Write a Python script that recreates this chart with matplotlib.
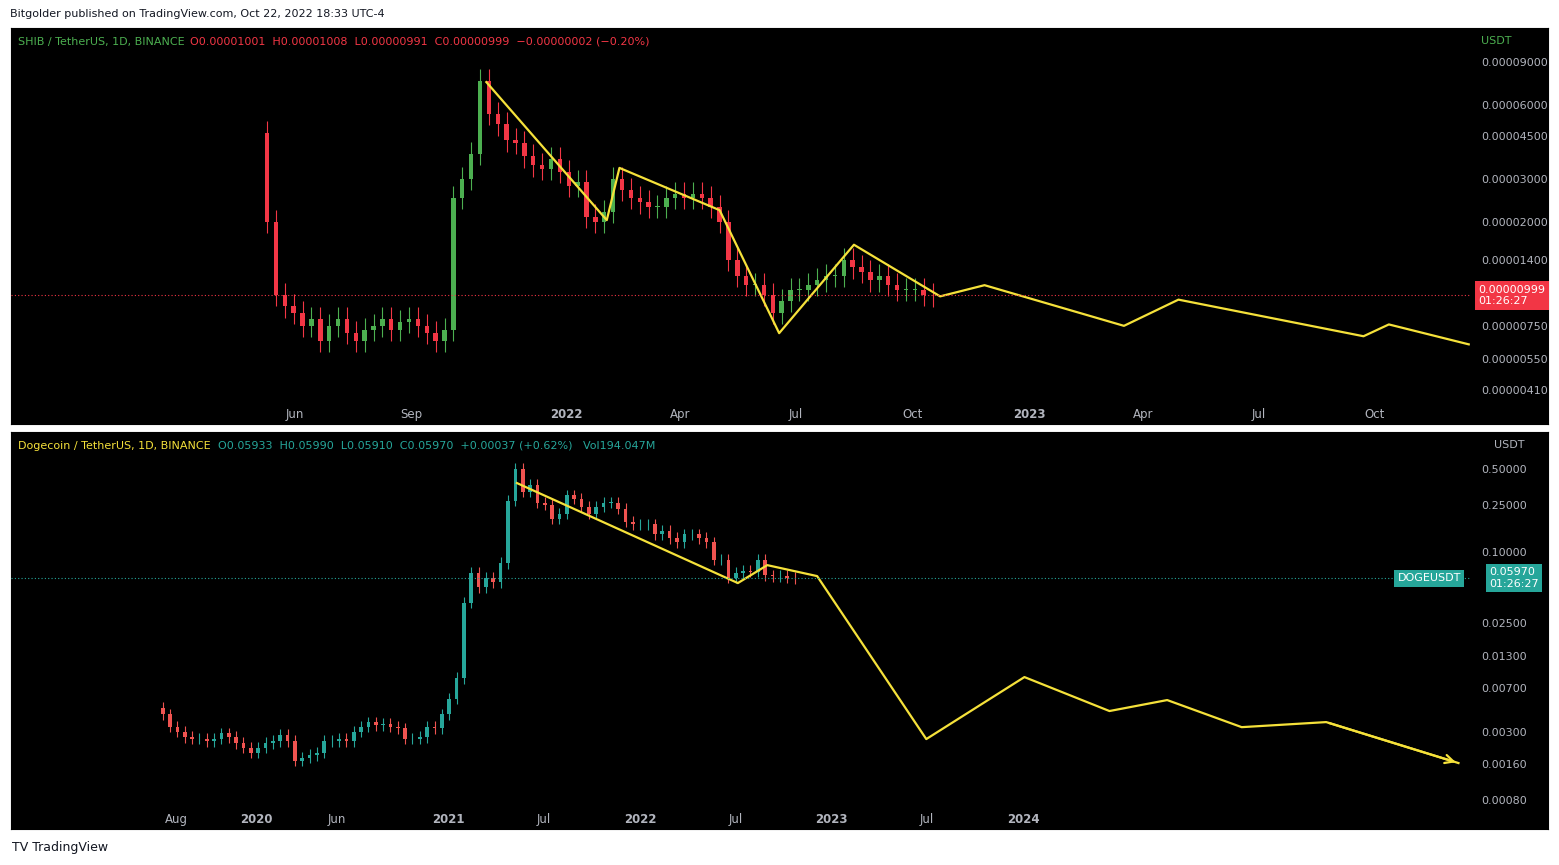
import numpy as np
import matplotlib.pyplot as plt
import matplotlib.dates as mdates
from matplotlib.ticker import FixedLocator, NullLocator

# ---- SHIB weekly closes (x1e-5), weeks starting 2021-05-10
shib_start = '2021-05-10'
shib_close = [2.0, 1.0, 0.9, 0.85, 0.75, 0.8, 0.65, 0.75, 0.8, 0.7, 0.65, 0.72, 0.75, 0.8,
              0.72, 0.78, 0.8, 0.75, 0.7, 0.65, 0.72, 2.5, 3.0, 3.8, 7.5, 5.5, 5.0, 4.3, 4.2,
              3.7, 3.4, 3.3, 3.6, 3.2, 2.8, 2.9, 2.1, 2.0, 2.2, 3.0, 2.7, 2.5, 2.4, 2.3, 2.3,
              2.5, 2.6, 2.5, 2.6, 2.5, 2.3, 2.0, 1.4, 1.2, 1.1, 1.1, 1.0, 0.85, 0.95, 1.05,
              1.05, 1.1, 1.15, 1.2, 1.2, 1.4, 1.3, 1.25, 1.15, 1.2, 1.1, 1.05, 1.05, 1.05, 1.0, 0.999]
shib_first_open = 4.6
shib_line_dates = ['2021-10-30', '2022-02-02', '2022-02-12', '2022-05-02', '2022-06-18',
                   '2022-08-16', '2022-10-23', '2022-11-27', '2023-03-17', '2023-04-29',
                   '2023-09-22', '2023-10-12', '2023-12-14']
shib_line_vals = [7.45e-5, 2.03e-5, 3.32e-5, 2.23e-5, 7.0e-6, 1.61e-5, 9.9e-6, 1.10e-5,
                  7.5e-6, 9.6e-6, 6.8e-6, 7.6e-6, 6.3e-6]
shib_ticks = [0.00009, 0.00006, 0.000045, 0.00003, 0.00002, 0.000014, 0.0000075, 0.0000055, 0.0000041]
shib_last = 0.00000999

# ---- DOGE biweekly closes, starting 2019-07-06
doge_start = '2019-07-06'
doge_close = [0.0042, 0.0033, 0.0030, 0.0027, 0.0026, 0.0026, 0.0025, 0.0026, 0.0029, 0.0027,
              0.0024, 0.0022, 0.0020,
              0.0022, 0.0024, 0.0025, 0.0028, 0.0025, 0.0017, 0.0018, 0.0019, 0.0020, 0.0025,
              0.0025, 0.0026, 0.0025, 0.0030, 0.0033, 0.0036, 0.0034, 0.0035, 0.0033, 0.0032,
              0.0026, 0.0026, 0.0027, 0.0033, 0.0032, 0.0042,
              0.0057, 0.0085, 0.037, 0.066, 0.050, 0.060, 0.055, 0.08, 0.27, 0.50, 0.32, 0.37,
              0.26, 0.25, 0.19, 0.21, 0.30, 0.28, 0.24, 0.21, 0.24, 0.26, 0.26, 0.23, 0.18, 0.17,
              0.17, 0.17, 0.14, 0.15, 0.13, 0.12, 0.14, 0.14, 0.13, 0.12, 0.085, 0.085, 0.060,
              0.066, 0.069, 0.068, 0.085, 0.063, 0.062, 0.062, 0.060, 0.0597]
doge_first_open = 0.0048
doge_line_dates = ['2021-05-11', '2022-07-06', '2022-08-31', '2022-12-04', '2023-06-30',
                   '2024-01-03', '2024-06-13', '2024-10-01', '2025-02-20', '2025-07-31', '2026-04-09']
doge_line_vals = [0.381, 0.0543, 0.077, 0.0622, 0.0026, 0.0087, 0.00449, 0.00556, 0.00328,
                  0.00362, 0.00163]
doge_ticks = [0.5, 0.25, 0.1, 0.025, 0.013, 0.007, 0.003, 0.0016, 0.0008]
doge_last = 0.05970

W, H = 1559, 865
fig = plt.figure(figsize=(W / 100, H / 100), dpi=100, facecolor='white')


def box(x0, y0, x1, y1):
    return [x0 / W, 1 - y1 / H, (x1 - x0) / W, (y1 - y0) / H]


def candles(ax, start, step, closes, first_open, width, up, down):
    d0 = mdates.date2num(np.datetime64(start))
    opens = [first_open] + closes[:-1]
    for i, (o, c) in enumerate(zip(opens, closes)):
        x = d0 + i * step
        col = up if c >= o else down
        hi, lo = max(o, c) * 1.12, min(o, c) * 0.9
        ax.vlines(x, lo, hi, color=col, lw=0.8)
        ax.bar(x, abs(c - o) or c * 0.01, bottom=min(o, c), width=width, color=col, lw=0)


def panel(top, bot, xlim, ylim, ticks, fmt):
    bg = fig.add_axes(box(11, top, 1548, bot), facecolor='black')
    bg.set_xticks([]); bg.set_yticks([])
    ax = fig.add_axes(box(11, top, 1470, bot - 24), facecolor='none')
    ax.set_yscale('log')
    ax.set_xlim(mdates.date2num(np.datetime64(xlim[0])), mdates.date2num(np.datetime64(xlim[1])))
    ax.set_ylim(*ylim)
    for s in ax.spines.values():
        s.set_visible(False)
    ax.yaxis.tick_right()
    ax.yaxis.set_major_locator(FixedLocator(ticks))
    ax.yaxis.set_minor_locator(NullLocator())
    ax.set_yticklabels([fmt % t for t in ticks])
    ax.tick_params(axis='y', length=0, pad=8, colors='#b2b5be', labelsize=8)
    ax.tick_params(axis='x', length=0, pad=6, colors='#b2b5be', labelsize=8.5)
    return ax


def xlabels(ax, dates, labels):
    ax.set_xticks([mdates.date2num(np.datetime64(d)) for d in dates])
    ax.set_xticklabels(labels)
    for t in ax.get_xticklabels():
        if t.get_text().isdigit():
            t.set_fontweight('bold')


# ---- top panel: SHIB
ax1 = panel(28, 424, ('2020-10-20', '2023-12-15'), (3.73e-6, 1.24e-4), shib_ticks, '%.8f')
xlabels(ax1, ['2021-06-01', '2021-09-01', '2022-01-01', '2022-04-01', '2022-07-01', '2022-10-01',
              '2023-01-01', '2023-04-01', '2023-07-01', '2023-10-01'],
        ['Jun', 'Sep', '2022', 'Apr', 'Jul', 'Oct', '2023', 'Apr', 'Jul', 'Oct'])
candles(ax1, shib_start, 7, [c * 1e-5 for c in shib_close], shib_first_open * 1e-5, 3.5,
        '#4caf50', '#f23645')
ax1.plot([mdates.date2num(np.datetime64(d)) for d in shib_line_dates], shib_line_vals,
         color='#f5e13a', lw=1.6)
ax1.axhline(shib_last, color='#f23645', lw=0.8, ls=(0, (1, 2)))
ax1.annotate('0.00000999\n01:26:27', xy=(1.0, shib_last), xycoords=('axes fraction', 'data'),
             xytext=(6, 0), textcoords='offset points', va='center', ha='left', color='white',
             fontsize=8, bbox=dict(boxstyle='square,pad=0.3', fc='#f23645', ec='none'))
fig.text(1481 / W, 1 - 41 / H, 'USDT', color='#4caf50', fontsize=8, va='center')
fig.text(18 / W, 1 - 42 / H, 'SHIB / TetherUS, 1D, BINANCE', color='#4caf50', fontsize=8, va='center')
fig.text(190 / W, 1 - 42 / H,
         'O0.00001001  H0.00001008  L0.00000991  C0.00000999  \u22120.00000002 (\u22120.20%)',
         color='#f23645', fontsize=8, va='center')

# ---- bottom panel: DOGE
ax2 = panel(432, 829, ('2018-09-20', '2026-05-01'), (0.00072, 1.03), doge_ticks, '%.5f')
xlabels(ax2, ['2019-08-01', '2020-01-01', '2020-06-01', '2021-01-01', '2021-07-01', '2022-01-01',
              '2022-07-01', '2023-01-01', '2023-07-01', '2024-01-01'],
        ['Aug', '2020', 'Jun', '2021', 'Jul', '2022', 'Jul', '2023', 'Jul', '2024'])
candles(ax2, doge_start, 14, doge_close, doge_first_open, 7, '#26a69a', '#ef5350')
ax2.plot([mdates.date2num(np.datetime64(d)) for d in doge_line_dates], doge_line_vals,
         color='#f5e13a', lw=1.6)
ax2.annotate('', xy=(mdates.date2num(np.datetime64(doge_line_dates[-1])), doge_line_vals[-1]),
             xytext=(mdates.date2num(np.datetime64(doge_line_dates[-2])), doge_line_vals[-2]),
             arrowprops=dict(arrowstyle='->', color='#f5e13a', lw=1.6, mutation_scale=15))
ax2.axhline(doge_last, color='#26a69a', lw=0.8, ls=(0, (1, 2)))
ax2.annotate('0.05970\n01:26:27', xy=(1.0, doge_last), xycoords=('axes fraction', 'data'),
             xytext=(14, 0), textcoords='offset points', va='center', ha='left', color='white',
             fontsize=8, bbox=dict(boxstyle='square,pad=0.3', fc='#26a69a', ec='none'))
ax2.annotate('DOGEUSDT', xy=(1.0, doge_last), xycoords=('axes fraction', 'data'),
             xytext=(-52, 0), textcoords='offset points', va='center', ha='left', color='white',
             fontsize=8, bbox=dict(boxstyle='square,pad=0.3', fc='#26a69a', ec='none'))
fig.text(1494 / W, 1 - 445 / H, 'USDT', color='#b2b5be', fontsize=8, va='center')
fig.text(18 / W, 1 - 446 / H, 'Dogecoin / TetherUS, 1D, BINANCE', color='#f5e13a', fontsize=8, va='center')
fig.text(218 / W, 1 - 446 / H,
         'O0.05933  H0.05990  L0.05910  C0.05970  +0.00037 (+0.62%)   Vol194.047M',
         color='#26a69a', fontsize=8, va='center')

fig.text(10 / W, 1 - 14 / H, 'Bitgolder published on TradingView.com, Oct 22, 2022 18:33 UTC-4',
         color='#131722', fontsize=8, va='center')
fig.text(12 / W, 1 - 847 / H, 'TV TradingView', color='#131722', fontsize=9, va='center')

fig.savefig('out.png', dpi=100, facecolor='white')
